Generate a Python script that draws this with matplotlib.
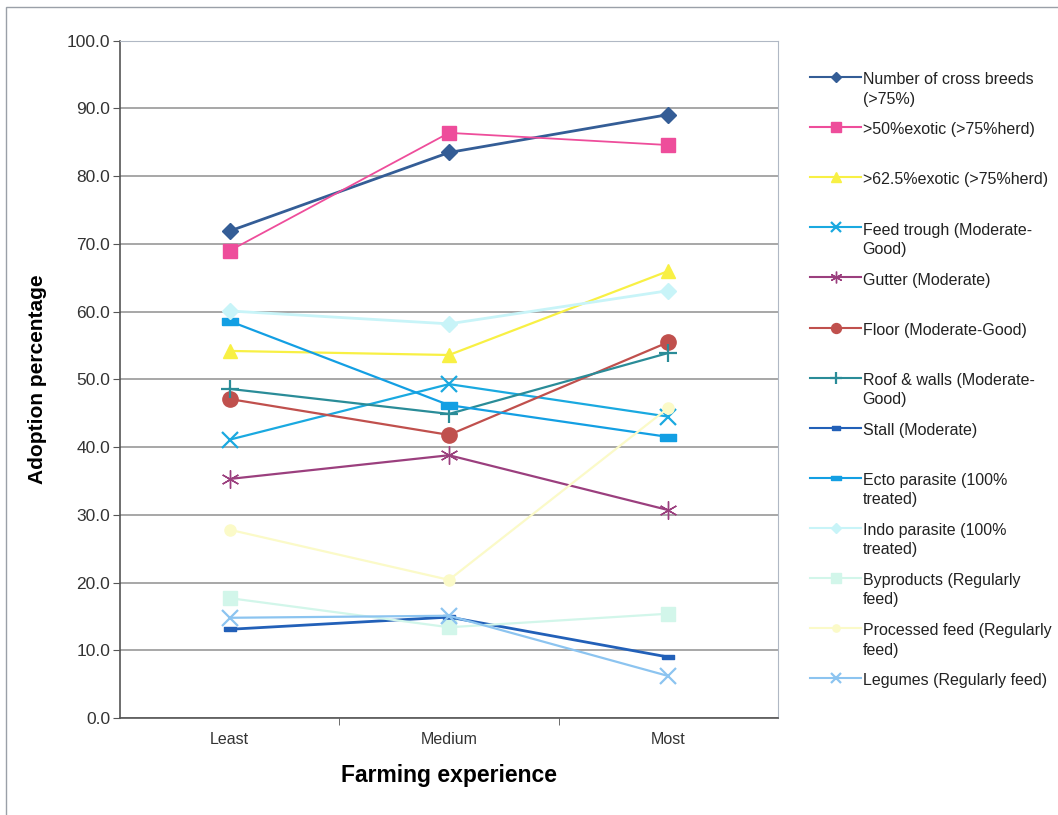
import numpy as np
import matplotlib.pyplot as plt
from matplotlib.legend_handler import HandlerLine2D
from matplotlib.patches import Rectangle

plt.rcParams['font.family'] = ['Liberation Sans', 'DejaVu Sans']

experience = ["Least", "Medium", "Most"]

cross_breeds = [71.9, 83.5, 89.1]
exotic_50 = [69.0, 86.4, 84.6]
exotic_625 = [54.2, 53.6, 66.0]
feed_trough = [41.1, 49.3, 44.5]
gutter = [35.3, 38.8, 30.7]
floor = [47.1, 41.8, 55.5]
roof_walls = [48.6, 44.9, 53.9]
stall = [13.1, 14.9, 9.0]
ecto = [58.6, 46.2, 41.5]
indo = [60.1, 58.2, 63.1]
byproducts = [17.7, 13.4, 15.4]
processed = [27.8, 20.4, 45.8]
legumes = [14.8, 15.1, 6.2]

labels = [
    "Number of cross breeds\n(>75%)",
    ">50%exotic (>75%herd)",
    ">62.5%exotic (>75%herd)",
    "Feed trough (Moderate-\nGood)",
    "Gutter (Moderate)",
    "Floor (Moderate-Good)",
    "Roof & walls (Moderate-\nGood)",
    "Stall (Moderate)",
    "Ecto parasite (100%\ntreated)",
    "Indo parasite (100%\ntreated)",
    "Byproducts (Regularly\nfeed)",
    "Processed feed (Regularly\nfeed)",
    "Legumes (Regularly feed)",
]
series = [cross_breeds, exotic_50, exotic_625, feed_trough, gutter, floor,
          roof_walls, stall, ecto, indo, byproducts, processed, legumes]

# flat bar marker used for the stall / ecto parasite series
dash = [(-1, -0.42), (1, -0.42), (1, 0.42), (-1, 0.42), (-1, -0.42)]

# (color, marker, markersize, linewidth)
styles = [
    ("#345d96", "D", 8, 2.0),
    ("#ee4d9b", "s", 10, 1.3),
    ("#f8f044", "^", 10, 1.6),
    ("#1aa9e0", "x", 11, 1.6),
    ("#9b3f7e", (6, 2, 0), 13, 1.6),
    ("#c0504d", "o", 11, 1.6),
    ("#2a8c98", "+", 13, 1.6),
    ("#2260b8", dash, 8, 2.0),
    ("#139fe3", dash, 12, 1.6),
    ("#c8f4f8", "D", 8, 2.0),
    ("#d2f6ea", "s", 10, 1.6),
    ("#fbfac8", "o", 8, 1.6),
    ("#8cc4f0", "x", 11, 1.6),
]


class FirstLineHandler(HandlerLine2D):
    """Keep the legend symbol level with the first line of a two-line label."""

    def __init__(self, shift, **kw):
        super().__init__(**kw)
        self.shift = shift

    def create_artists(self, legend, orig_handle, xdescent, ydescent,
                       width, height, fontsize, trans):
        arts = super().create_artists(legend, orig_handle, xdescent, ydescent,
                                      width, height, fontsize, trans)
        for a in arts:
            a.set_ydata(np.asarray(a.get_ydata()) + self.shift * fontsize)
        return arts


fig = plt.figure(figsize=(10.58, 8.15), dpi=100)
fig.patches.append(Rectangle((0.006, -0.1), 1.2, 1.091, transform=fig.transFigure,
                             fill=False, edgecolor="#9aa0a8", linewidth=1.0))
ax = fig.add_axes([0.1134, 0.119, 0.622, 0.831])

x = np.arange(len(experience))
lines = []
for vals, (c, m, ms, lw) in zip(series, styles):
    ln, = ax.plot(x, vals, color=c, marker=m, markersize=ms, linewidth=lw,
                  markeredgewidth=1.6 if m in ("x", "+") else 1.0,
                  markeredgecolor=c, markerfacecolor=c, zorder=3)
    lines.append(ln)

ax.set_xlim(-0.5, 2.5)
ax.set_ylim(0, 100)
ax.set_yticks(np.arange(0, 101, 10))
ax.set_yticklabels([f"{v:.1f}" for v in np.arange(0, 101, 10)], fontsize=12.5, color="#333333")
ax.set_xticks(x)
ax.set_xticklabels(experience, fontsize=11.5, color="#333333")
ax.tick_params(axis="x", length=0, pad=10)
ax.set_xticks([0.5, 1.5], minor=True)
ax.tick_params(axis="x", which="minor", length=5, color="#555555")
ax.tick_params(axis="y", length=5, color="#555555", direction="out", pad=2)
ax.grid(axis="y", color="#909090", linewidth=1.1)
ax.set_axisbelow(True)
for side in ("top", "right"):
    ax.spines[side].set_color("#b0b8c4")
for side in ("left", "bottom"):
    ax.spines[side].set_color("#555555")
    ax.spines[side].set_linewidth(1.2)

ax.set_ylabel("Adoption percentage", fontsize=15, fontweight="bold", labelpad=14)
ax.set_xlabel("Farming experience", fontsize=16.5, fontweight="bold", labelpad=12)

# every label takes two lines so entries are evenly spaced
leg_labels = [lb if "\n" in lb else lb + "\n " for lb in labels]
handler_map = {ln: FirstLineHandler(0.8, marker_pad=0.3) for ln in lines}
leg = fig.legend(lines, leg_labels, loc="upper left",
                 bbox_to_anchor=(0.758, 0.921), frameon=False, fontsize=11.5,
                 handlelength=3.2, handletextpad=0.1, labelspacing=0.97,
                 handler_map=handler_map, borderpad=0)
for t in leg.get_texts():
    t.set_color("#222222")
    t.set_linespacing(1.38)
for h, (c, m, ms, lw) in zip(leg.legend_handles, styles):
    h.set_markersize(ms * 0.65)
    h.set_linewidth(1.5)

fig.savefig("out.png", dpi=100)
